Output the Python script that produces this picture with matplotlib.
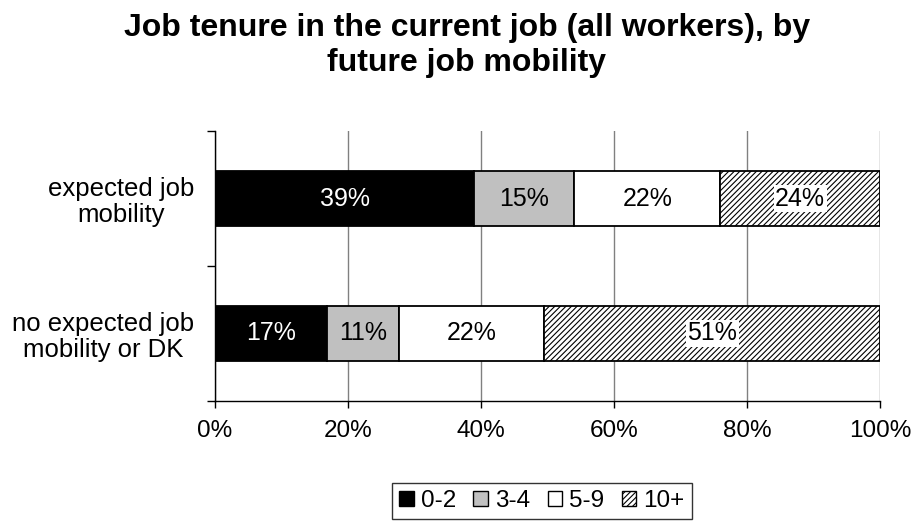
import numpy as np
import matplotlib.pyplot as plt
from matplotlib.patches import Patch

plt.rcParams['font.family'] = ['Liberation Sans', 'DejaVu Sans']
plt.rcParams['hatch.linewidth'] = 0.8

groups = ["expected job\nmobility", "no expected job\nmobility or DK"]
tenure = ["0-2", "3-4", "5-9", "10+"]
shares = [
    [39, 15, 22, 24],
    [17, 11, 22, 51],
]
colors = ["black", "#c0c0c0", "white", "white"]
hatches = [None, None, None, "//////"]
txtcol = ["white", "black", "black", "black"]

fig = plt.figure(figsize=(9.15, 5.24), dpi=100)
ax = fig.add_axes([215 / 915, 1 - 401 / 524, 665 / 915, 270 / 524])

ypos = np.array([1, 0])
vals = np.array(shares, dtype=float)
# 100% stacked: scale each row to its own total
pct = vals / vals.sum(axis=1, keepdims=True) * 100
left = np.zeros(len(groups))
for j, name in enumerate(tenure):
    ax.barh(ypos, pct[:, j], left=left, height=0.41, color=colors[j],
            edgecolor="black", linewidth=1.3, hatch=hatches[j], zorder=2)
    for i in range(len(groups)):
        x = left[i] + pct[i, j] / 2
        box = None
        if hatches[j]:
            box = dict(facecolor="white", edgecolor="none", pad=1.0)
        ax.text(x, ypos[i], "%d%%" % shares[i][j], ha="center", va="center",
                fontsize=18, color=txtcol[j], bbox=box, zorder=3)
    left += pct[:, j]

ax.set_xlim(0, 100)
ax.set_ylim(-0.5, 1.5)
ax.set_xticks(np.arange(0, 101, 20))
ax.set_xticklabels(["%d%%" % v for v in range(0, 101, 20)], fontsize=17.5)
ax.set_yticks(ypos)
ax.set_yticklabels(groups, fontsize=18.5, multialignment="center", linespacing=1.1)
ax.set_yticks([-0.5, 0.5, 1.5], minor=True)
ax.tick_params(axis="y", which="major", length=0, pad=15)
ax.tick_params(axis="y", which="minor", length=6, width=1)
ax.tick_params(axis="x", length=5, width=1, pad=9)
ax.grid(axis="x", color="#808080", linewidth=1, zorder=0)
ax.set_axisbelow(True)
for s in ["top", "right"]:
    ax.spines[s].set_visible(False)
for s in ["left", "bottom"]:
    ax.spines[s].set_linewidth(1)

fig.text(467 / 915, 1 - 13 / 524,
         "Job tenure in the current job (all workers), by\nfuture job mobility",
         ha="center", va="top", fontsize=23, fontweight="bold", linespacing=1.22)

handles = [Patch(facecolor=colors[j], edgecolor="black", hatch=hatches[j], label=tenure[j])
           for j in range(len(tenure))]
leg = fig.legend(handles=handles, loc="center", bbox_to_anchor=(542 / 915, 1 - 501 / 524),
                 ncol=4, fontsize=17.5, frameon=True, fancybox=False, handlelength=0.6,
                 handleheight=0.6, handletextpad=0.3, columnspacing=0.7,
                 borderpad=0.3, borderaxespad=0)
leg.get_frame().set_edgecolor("black")
leg.get_frame().set_linewidth(1)

fig.savefig("out.png", dpi=100)
